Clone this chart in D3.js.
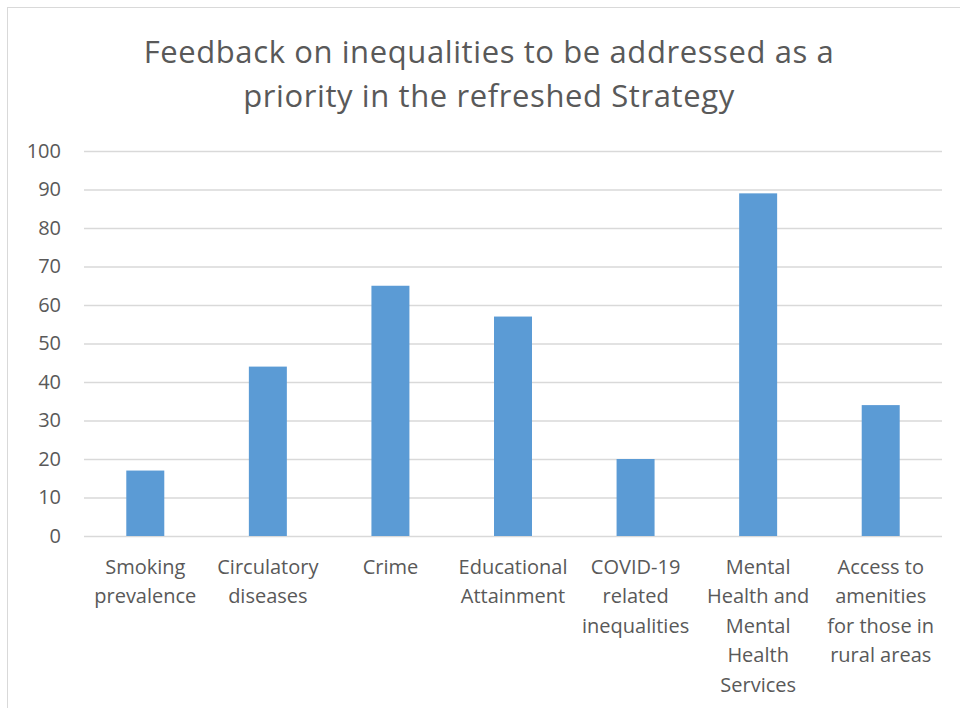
<!DOCTYPE html>
<html>
<head>
<meta charset="utf-8">
<script src="https://cdn.jsdelivr.net/npm/d3@7"></script>
<style>
  html, body { margin: 0; padding: 0; background: #fff; }
  svg { display: block; }
</style>
</head>
<body>
<svg id="chart" width="960" height="708"></svg>
<script>
const categories = ["Smoking prevalence", "Circulatory diseases", "Crime", "Educational Attainment", "COVID-19 related inequalities", "Mental Health and Mental Health Services", "Access to amenities for those in rural areas"];
const categoryLines = [["Smoking", "prevalence"], ["Circulatory", "diseases"], ["Crime"], ["Educational", "Attainment"], ["COVID-19", "related", "inequalities"], ["Mental", "Health and", "Mental", "Health", "Services"], ["Access to", "amenities", "for those in", "rural areas"]];
const values = [17, 44, 65, 57, 20, 89, 34];
const yTicks = [0, 10, 20, 30, 40, 50, 60, 70, 80, 90, 100];
const titleLines = ["Feedback on inequalities to be addressed as a", "priority in the refreshed Strategy"];

const svg = d3.select("#chart");
const font = "'Open Sans', sans-serif";
const textColor = "#595959";

// chart border
svg.append("rect").attr("x", 7.5).attr("y", 7.5).attr("width", 1000).attr("height", 1000)
  .attr("fill", "#fff").attr("stroke", "#d9d9d9").attr("stroke-width", 1);

const plot = { left: 84, right: 942, top: 151, bottom: 536 };

const x = d3.scaleBand().domain(categories).range([plot.left, plot.right])
  .paddingInner(0.69).paddingOuter(0.345);
const y = d3.scaleLinear().domain([0, 100]).range([plot.bottom, plot.top]);

// title
svg.append("text").attr("x", 489).attr("y", 63).attr("text-anchor", "middle")
  .attr("font-family", font).attr("font-size", 31).attr("letter-spacing", 0.6).attr("fill", textColor)
  .selectAll("tspan").data(titleLines).join("tspan")
  .attr("x", 489).attr("dy", (d, i) => i === 0 ? 0 : 44).text(d => d);

// gridlines + y axis
const yAxis = d3.axisLeft(y).tickValues(yTicks).tickSize(-(plot.right - plot.left)).tickPadding(23);
const gy = svg.append("g").attr("transform", `translate(${plot.left},0)`).call(yAxis);
gy.select(".domain").remove();
gy.selectAll(".tick line").attr("stroke", "#d9d9d9").attr("stroke-width", 1.5);
gy.selectAll(".tick text").attr("font-family", font).attr("font-size", 20).attr("fill", textColor);

// bars
svg.append("g").selectAll("rect").data(values).join("rect")
  .attr("x", (d, i) => x(categories[i]))
  .attr("y", d => y(d))
  .attr("width", x.bandwidth())
  .attr("height", d => y(0) - y(d))
  .attr("fill", "#5b9bd5");

// x axis labels
const xAxis = d3.axisBottom(x).tickSize(0).tickFormat(() => "");
const gx = svg.append("g").attr("transform", `translate(0,${plot.bottom})`).call(xAxis);
gx.select(".domain").remove();
gx.selectAll(".tick").each(function(d, i) {
  const t = d3.select(this).append("text")
    .attr("font-family", font).attr("font-size", 20).attr("fill", textColor)
    .attr("text-anchor", "middle").attr("y", 38);
  t.selectAll("tspan").data(categoryLines[i]).join("tspan")
    .attr("x", 0).attr("dy", (l, j) => j === 0 ? 0 : 29.4).text(l => l);
});
</script>
</body>
</html>
